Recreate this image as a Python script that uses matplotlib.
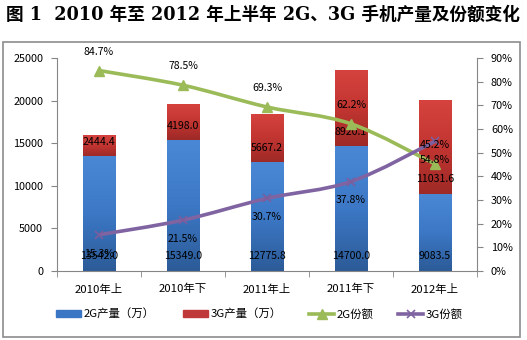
import numpy as np
import matplotlib
matplotlib.use("Agg")
import matplotlib.pyplot as plt
from matplotlib.path import Path
from matplotlib.patches import PathPatch, Rectangle
from matplotlib.lines import Line2D
from matplotlib.colors import LinearSegmentedColormap

plt.rcParams['font.family'] = ['Noto Sans CJK SC', 'DejaVu Sans']

# ---- data ----
categories = ['2010年上', '2010年下', '2011年上', '2011年下', '2012年上']
prod_2g = [13542.0, 15349.0, 12775.8, 14700.0, 9083.5]
prod_3g = [2444.4, 4198.0, 5667.2, 8920.1, 11031.6]
share_2g = [84.7, 78.5, 69.3, 62.2, 45.2]
share_3g = [15.3, 21.5, 30.7, 37.8, 54.8]
left_ticks = [0, 5000, 10000, 15000, 20000, 25000]
right_ticks = [0, 10, 20, 30, 40, 50, 60, 70, 80, 90]
legend_labels = ['2G产量（万）', '3G产量（万）', '2G份额', '3G份额']

# layout: anchor (left-axis units) for 3G bar value labels
label3_anchor = [15176, 17019, 14437, 16350, 10798]
# legend entry left positions (pixels)
legend_x = [56, 183, 309, 398]

W, H = 527, 340
fig = plt.figure(figsize=(W / 100, H / 100), dpi=100)
fig.patch.set_facecolor('white')

# outer frame
fig.add_artist(Rectangle((3 / W, 1 - 337 / H), 517 / W, 295 / H, transform=fig.transFigure,
                         fill=False, edgecolor='#8c8c8c', linewidth=1.2))

fig.text(0.5, 1 - 15 / H, '图 1  2010 年至 2012 年上半年 2G、3G 手机产量及份额变化',
         ha='center', va='center', fontsize=12.7, fontweight='bold',
         family=['DejaVu Serif', 'Noto Sans CJK SC'])

ax = fig.add_axes([57 / W, 1 - 271 / H, 420 / W, 213 / H])
ax2 = ax.twinx()

x = np.arange(len(categories))
bw = 0.39
blue_cmap = LinearSegmentedColormap.from_list('b', ['#2c5b97', '#3c78c6', '#4a88d6'])
red_cmap = LinearSegmentedColormap.from_list('r', ['#9e2a27', '#c23531', '#d6433e'])

bars1 = ax.bar(x, prod_2g, bw, color='#3a76c4', zorder=2)
bars2 = ax.bar(x, prod_3g, bw, bottom=prod_2g, color='#c9393a', zorder=2)
grad = np.linspace(0, 1, 256).reshape(-1, 1)
for bars, cmap in ((bars1, blue_cmap), (bars2, red_cmap)):
    for b in bars:
        x0, y0, w, h = b.get_x(), b.get_y(), b.get_width(), b.get_height()
        im = ax.imshow(grad, cmap=cmap, extent=(x0, x0 + w, y0, y0 + h), origin='lower',
                       aspect='auto', zorder=2.1, interpolation='bilinear')
        im.set_clip_path(b)

ax.set_xlim(-0.5, len(categories) - 0.5)
ax.set_ylim(0, 25000)
ax.set_yticks(left_ticks)
ax.set_yticklabels([str(t) for t in left_ticks])
ax.set_xticks(x)
ax.set_xticklabels(categories)
ax.set_xticks(np.arange(-0.5, len(categories)), minor=True)
ax.tick_params(axis='x', which='major', length=0, pad=9, labelsize=8.2, colors='#000000')
ax.tick_params(axis='x', which='minor', length=4, color='#868686', direction='out')
ax.tick_params(axis='y', length=4, color='#868686', labelsize=7.8, pad=6)

ax2.set_ylim(0, 90)
ax2.set_yticks(right_ticks)
ax2.set_yticklabels([f'{t}%' for t in right_ticks])
ax2.tick_params(axis='y', length=4, color='#868686', labelsize=7.8, pad=6)

for a in (ax, ax2):
    for s in a.spines.values():
        s.set_color('#868686')
    a.spines['top'].set_visible(False)
ax.spines['right'].set_visible(False)
ax2.spines['left'].set_visible(False)
ax2.spines['bottom'].set_visible(False)


def smooth_path(xs, ys):
    pts = np.column_stack([xs, ys]).astype(float)
    n = len(pts)
    verts = [pts[0]]
    codes = [Path.MOVETO]
    for i in range(n - 1):
        p0 = pts[i - 1] if i > 0 else pts[i]
        p1 = pts[i]
        p2 = pts[i + 1]
        p3 = pts[i + 2] if i + 2 < n else pts[i + 1]
        c1 = p1 + (p2 - p0) / 6.0
        c2 = p2 - (p3 - p1) / 6.0
        verts += [c1, c2, p2]
        codes += [Path.CURVE4] * 3
    return Path(verts, codes)


green = '#9bbb59'
purple = '#8064a2'
ax2.add_patch(PathPatch(smooth_path(x, share_2g), fill=False, edgecolor=green, lw=2.6, zorder=5))
ax2.add_patch(PathPatch(smooth_path(x, share_3g), fill=False, edgecolor=purple, lw=2.6, zorder=5))
ax2.plot(x, share_2g, ls='none', marker='^', ms=7, color=green, zorder=6)
ax2.plot(x, share_3g, ls='none', marker='x', ms=6, mew=1.2, color='#7a5e9e', zorder=6)

lab_fs = 7.6
for i in range(len(x)):
    ax.annotate(f'{prod_2g[i]:.1f}', (x[i], 0), xytext=(0, 10.5), textcoords='offset points',
                ha='center', va='center', fontsize=lab_fs, zorder=7)
    ax.annotate(f'{prod_3g[i]:.1f}', (x[i], label3_anchor[i]), ha='center', va='center',
                fontsize=lab_fs, zorder=7)
    ax2.annotate(f'{share_2g[i]:.1f}%', (x[i], share_2g[i]), xytext=(0, 13.5),
                 textcoords='offset points', ha='center', va='center', fontsize=lab_fs, zorder=7)
    ax2.annotate(f'{share_3g[i]:.1f}%', (x[i], share_3g[i]), xytext=(0, -13.5),
                 textcoords='offset points', ha='center', va='center', fontsize=lab_fs, zorder=7)

# legend (one entry per position)
handles = [
    Rectangle((0, 0), 1, 1, color='#3a76c4'),
    Rectangle((0, 0), 1, 1, color='#c0393a'),
    Line2D([], [], color=green, lw=2.6, marker='^', ms=7),
    Line2D([], [], color=purple, lw=2.6, marker='x', ms=6, mew=1.2),
]
for hnd, lab, lx in zip(handles, legend_labels, legend_x):
    fig.legend([hnd], [lab], loc='center left', bbox_to_anchor=(lx / W, 1 - 314 / H),
               frameon=False, fontsize=8.2, handlelength=2.2, handleheight=0.55,
               handletextpad=0.2, borderpad=0, borderaxespad=0)

fig.savefig('out.png', dpi=100, facecolor='white')
